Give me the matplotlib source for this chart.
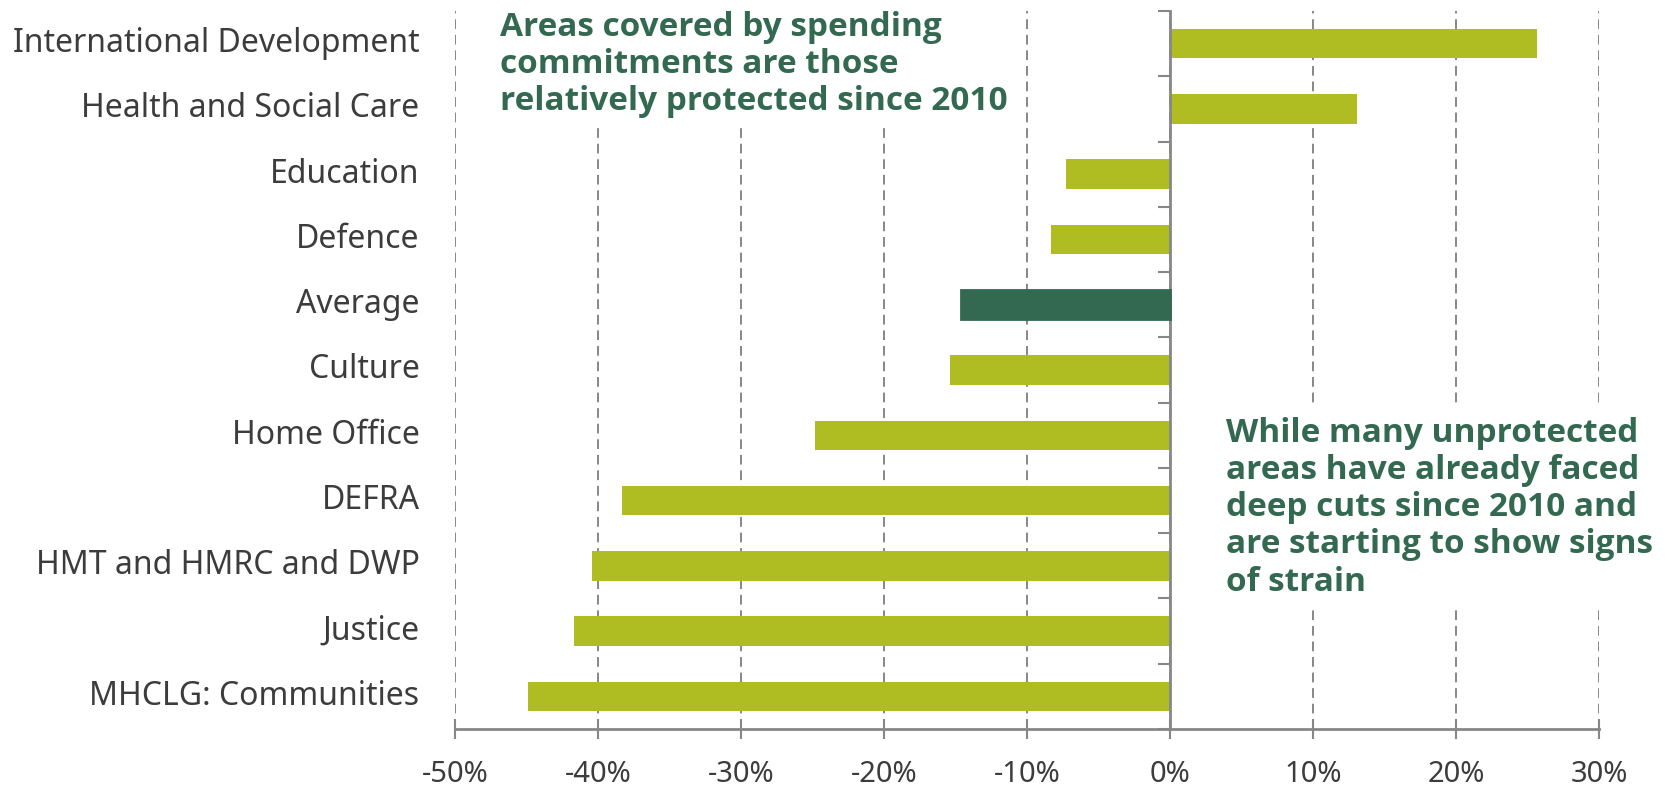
import matplotlib.pyplot as plt
import matplotlib.transforms as mtransforms
from matplotlib.ticker import FuncFormatter
import numpy as np

plt.rcParams['font.family'] = ['Noto Sans', 'DejaVu Sans']

departments = ['International Development', 'Health and Social Care', 'Education',
               'Defence', 'Average', 'Culture', 'Home Office', 'DEFRA',
               'HMT and HMRC and DWP', 'Justice', 'MHCLG: Communities']
change = [25.7, 13.1, -7.3, -8.3, -14.6, -15.4, -24.8, -38.3, -40.4, -41.7, -44.9]
highlight = 'Average'
xticks = [-50, -40, -30, -20, -10, 0, 10, 20, 30]

note_protected = 'Areas covered by spending\ncommitments are those\nrelatively protected since 2010'
note_cuts = ('While many unprotected\nareas have already faced\ndeep cuts since 2010 and\n'
             'are starting to show signs\nof strain')

LIME = '#afbc22'
DARK = '#336950'
GREY = '#878787'
TEXT = '#3c3c3c'

fig = plt.figure(figsize=(16.75, 7.9), dpi=100)
ax = fig.add_axes([0.2716, 0.0772, 0.683, 0.9089])

y = np.arange(len(departments))
colors = [DARK if d == highlight else LIME for d in departments]
bars = ax.barh(y, change, height=0.45, color=colors, zorder=2)
for b, d in zip(bars, departments):
    if d == highlight:
        b.set_edgecolor(DARK)
        b.set_linewidth(2)
        b.set_zorder(4)

ax.set_xlim(xticks[0], xticks[-1])
ax.set_ylim(len(departments) - 0.5, -0.5)

# gridlines
ax.set_axisbelow(True)
ax.set_xticks(xticks)
ax.grid(axis='x', color=GREY, linestyle=(0, (5, 3)), linewidth=1.4)
ax.xaxis.set_major_formatter(FuncFormatter(lambda v, p: f'{v:.0f}%'))
ax.tick_params(axis='x', direction='inout', length=14, width=1.5, color=GREY,
               labelsize=21, labelcolor=TEXT, pad=15)

# vertical axis at zero with ticks between categories
ax.spines['left'].set_position(('data', 0))
ax.spines['left'].set_color(GREY)
ax.spines['left'].set_linewidth(2)
ax.spines['left'].set_zorder(3)
ax.spines['bottom'].set_color(GREY)
ax.spines['bottom'].set_linewidth(2)
ax.spines['top'].set_visible(False)
ax.spines['right'].set_visible(False)
ax.set_yticks(np.arange(len(departments) + 1) - 0.5)
ax.set_yticklabels([])
ax.tick_params(axis='y', direction='out', length=9, width=1.5, color=GREY)

trans = mtransforms.blended_transform_factory(ax.transAxes, ax.transData)
for yi, d in zip(y, departments):
    ax.text(-0.031, yi, d, transform=trans, ha='right', va='center',
            fontsize=23, color=TEXT)

box = dict(boxstyle='square,pad=0.3', facecolor='white', edgecolor='none')
for x0, y0, note in [(0.0393, 1.0, note_protected), (0.674, 0.435, note_cuts)]:
    ax.text(x0, y0, note, transform=ax.transAxes, ha='left', va='top',
            fontsize=24, fontweight='bold', family=['Open Sans', 'DejaVu Sans'],
            color=DARK, linespacing=1.17, bbox=box, zorder=5, clip_on=False)

fig.savefig('out.png', dpi=100)
